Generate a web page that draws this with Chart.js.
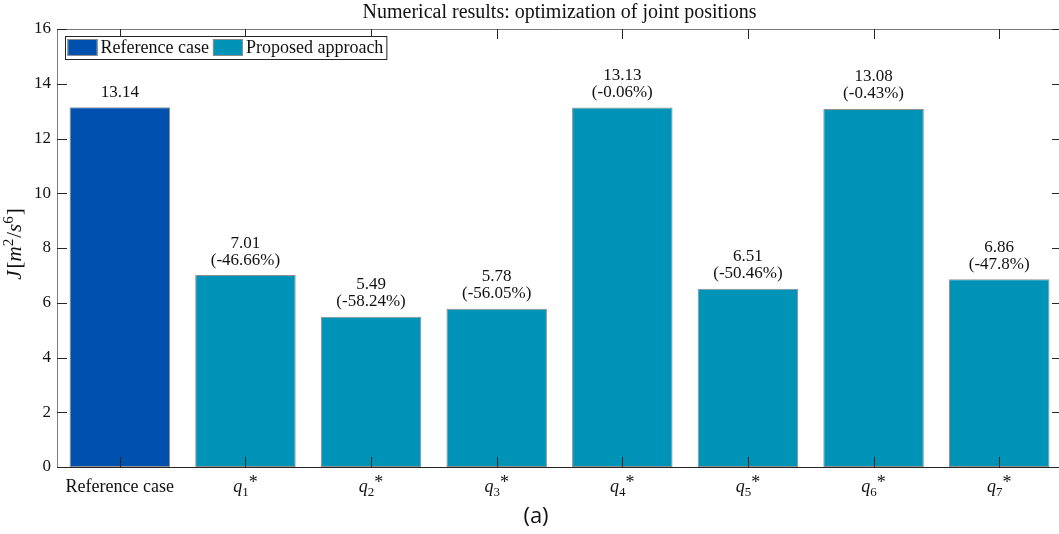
<!DOCTYPE html>
<html>
<head>
<meta charset="utf-8">
<title>Numerical results: optimization of joint positions</title>
<script src="https://cdn.jsdelivr.net/npm/chart.js@4.4.1/dist/chart.umd.min.js"></script>
<style>
  html, body { margin: 0; padding: 0; background: #fff; overflow: hidden; }
  #wrap { position: relative; width: 1062px; height: 534px; }
</style>
</head>
<body>
<div id="wrap"><canvas id="chart"></canvas></div>
<script>
// Cost J for the reference joint layout and for each optimised joint q_i*
const categories = ['Reference case', 'q1*', 'q2*', 'q3*', 'q4*', 'q5*', 'q6*', 'q7*'];
const costValues = [13.14, 7.01, 5.49, 5.78, 13.13, 6.51, 13.08, 6.86];
const relativeChange = ['', '-46.66%', '-58.24%', '-56.05%', '-0.06%', '-50.46%', '-0.43%', '-47.8%'];
const seriesNames = ['Reference case', 'Proposed approach'];
const yTicks = [0, 2, 4, 6, 8, 10, 12, 14, 16];

const COLORS = {
  reference: '#0050ae',
  proposed: '#0093b8',
  barEdge: '#8f8f8f',
  axis: '#262626',
  box: '#7a7a7a',
  text: '#111111'
};

const SERIF = '"Liberation Serif", "Times New Roman", serif';
const LABEL_SIZE = 18;
const VALUE_SIZE = 17;
const TICK_LEN = 10;

/**
 * Splits a label like "q3*" into italic q, subscript index and raised star.
 * @param {string} label
 * @returns {{t: string, it?: boolean, sub?: boolean, sup?: boolean}[]}
 */
function labelRuns(label) {
  const m = /^q(\d+)\*$/.exec(label);
  if (!m) return [{ t: label }];
  return [{ t: 'q', it: true }, { t: m[1], sub: true }, { t: '*', star: true }];
}

function runFont(r, size) {
  const sz = (r.sub || r.sup) ? size * 0.72 : size;
  return (r.it ? 'italic ' : '') + sz + 'px ' + SERIF;
}

/** Draws a row of text runs centred on cx with the main baseline at by. */
function drawRuns(ctx, runs, cx, by, size) {
  let total = 0;
  runs.forEach(r => {
    ctx.font = runFont(r, size);
    r.w = ctx.measureText(r.t).width + (r.gap || 0);
    total += r.w;
  });
  let x = cx - total / 2;
  ctx.textAlign = 'left';
  ctx.textBaseline = 'alphabetic';
  runs.forEach(r => {
    ctx.font = runFont(r, size);
    let dy = 0;
    if (r.sub) dy = size * 0.22;
    if (r.sup) dy = -size * 0.36;
    if (r.star) dy = -size * 0.2;
    ctx.fillText(r.t, x, by + dy);
    x += r.w;
  });
}

const referenceData = costValues.map((v, i) => (i === 0 ? v : null));
const proposedData = costValues.map((v, i) => (i === 0 ? null : v));

// Axis box with inward ticks on all four sides, drawn over the bars
const axisBox = {
  id: 'axisBox',
  afterDatasetsDraw(chart) {
    const { ctx, chartArea: a, scales: { x, y } } = chart;
    ctx.save();
    ctx.lineWidth = 1;
    ctx.strokeStyle = COLORS.box;
    ctx.beginPath();
    ctx.moveTo(a.left, a.top + 0.5);
    ctx.lineTo(a.right, a.top + 0.5);
    ctx.moveTo(a.right - 0.5, a.top);
    ctx.lineTo(a.right - 0.5, a.bottom);
    ctx.stroke();

    ctx.strokeStyle = COLORS.axis;
    ctx.beginPath();
    y.ticks.forEach((t, i) => {
      const py = Math.round(y.getPixelForTick(i)) + 0.5;
      ctx.moveTo(a.left, py);
      ctx.lineTo(a.left + TICK_LEN, py);
      ctx.moveTo(a.right, py);
      ctx.lineTo(a.right - TICK_LEN, py);
    });
    x.ticks.forEach((t, i) => {
      const px = Math.round(x.getPixelForTick(i)) + 0.5;
      ctx.moveTo(px, a.bottom);
      ctx.lineTo(px, a.bottom - TICK_LEN);
      ctx.moveTo(px, a.top);
      ctx.lineTo(px, a.top + TICK_LEN);
    });
    ctx.stroke();
    ctx.restore();
  }
};

// Value and relative change printed above every bar
const barLabels = {
  id: 'barLabels',
  afterDatasetsDraw(chart) {
    const { ctx } = chart;
    ctx.save();
    ctx.fillStyle = COLORS.text;
    ctx.font = VALUE_SIZE + 'px ' + SERIF;
    ctx.textAlign = 'center';
    ctx.textBaseline = 'middle';
    chart.data.datasets.forEach((ds, di) => {
      chart.getDatasetMeta(di).data.forEach((bar, i) => {
        if (ds.data[i] == null) return;
        const lines = [costValues[i].toFixed(2)];
        if (relativeChange[i]) lines.push('(' + relativeChange[i] + ')');
        lines.reverse().forEach((s, k) => {
          ctx.fillText(s, bar.x, bar.y - 15 - k * 17);
        });
      });
    });
    ctx.restore();
  }
};

// Category labels, y-axis label, legend and sub-figure tag
const annotations = {
  id: 'annotations',
  afterDraw(chart) {
    const { ctx, chartArea: a, scales: { x } } = chart;
    ctx.save();
    ctx.fillStyle = COLORS.text;

    categories.forEach((c, i) => {
      drawRuns(ctx, labelRuns(c), x.getPixelForTick(i), a.bottom + 25, LABEL_SIZE);
    });

    ctx.save();
    ctx.translate(21, 244);
    ctx.rotate(-Math.PI / 2);
    drawRuns(ctx, [
      { t: 'J', it: true, gap: 2 }, { t: '[' }, { t: 'm', it: true }, { t: '2', sup: true, gap: 1 },
      { t: '/' }, { t: 's', it: true }, { t: '6', sup: true, gap: 1 }, { t: ']' }
    ], 0, 0, 21);
    ctx.restore();

    // legend box in the upper-left corner of the axes
    const lx = a.left + 8, ly = a.top + 7, lh = 23;
    ctx.font = LABEL_SIZE + 'px ' + SERIF;
    const swW = 30, swH = 17;
    let cx = lx + 2.5;
    const items = chart.data.datasets.map(ds => {
      const item = { x: cx, label: ds.label, color: ds.backgroundColor };
      cx += swW + 3 + ctx.measureText(ds.label).width + 4;
      return item;
    });
    const lw = cx - lx - 1;
    ctx.fillStyle = '#fff';
    ctx.fillRect(lx, ly, lw, lh);
    ctx.strokeStyle = COLORS.axis;
    ctx.lineWidth = 1;
    ctx.strokeRect(lx + 0.5, ly + 0.5, lw, lh);
    items.forEach(it => {
      ctx.fillStyle = it.color;
      ctx.fillRect(it.x, ly + 3, swW, swH);
      ctx.strokeStyle = COLORS.barEdge;
      ctx.strokeRect(it.x + 0.5, ly + 3.5, swW - 1, swH - 1);
      ctx.fillStyle = COLORS.text;
      ctx.textAlign = 'left';
      ctx.textBaseline = 'middle';
      ctx.fillText(it.label, it.x + swW + 3, ly + lh / 2 + 1);
    });

    ctx.font = '22px "Open Sans", sans-serif';
    ctx.textAlign = 'center';
    ctx.textBaseline = 'middle';
    ctx.fillStyle = COLORS.text;
    ctx.fillText('(a)', 536, 517);
    ctx.restore();
  }
};

const barStyle = {
  grouped: false,
  barPercentage: 0.8,
  categoryPercentage: 1.0,
  borderWidth: 1,
  borderColor: COLORS.barEdge,
  borderSkipped: false
};

new Chart(document.getElementById('chart'), {
  type: 'bar',
  data: {
    labels: categories,
    datasets: [
      { label: seriesNames[0], data: referenceData, backgroundColor: COLORS.reference, ...barStyle },
      { label: seriesNames[1], data: proposedData, backgroundColor: COLORS.proposed, ...barStyle }
    ]
  },
  options: {
    responsive: true,
    maintainAspectRatio: false,
    animation: false,
    layout: { padding: 0 },
    plugins: {
      legend: { display: false },
      tooltip: { enabled: false },
      title: {
        display: true,
        fullSize: false,
        text: 'Numerical results: optimization of joint positions',
        color: COLORS.text,
        font: { family: SERIF, size: 20, weight: 'normal', lineHeight: 1.2 },
        padding: { top: 1, bottom: 4 }
      }
    },
    scales: {
      x: {
        grid: { display: false },
        border: { display: true, color: COLORS.axis, width: 1 },
        ticks: { display: false },
        afterFit: s => { s.height = 67; }
      },
      y: {
        min: 0,
        max: 16,
        grid: { display: false, drawTicks: false },
        border: { display: true, color: COLORS.box, width: 1 },
        afterBuildTicks: s => { s.ticks = yTicks.map(v => ({ value: v })); },
        ticks: {
          color: COLORS.text,
          padding: 6,
          font: { family: SERIF, size: 17 }
        },
        afterFit: s => { s.width = 57; }
      }
    }
  },
  plugins: [axisBox, barLabels, annotations]
});
</script>
</body>
</html>
